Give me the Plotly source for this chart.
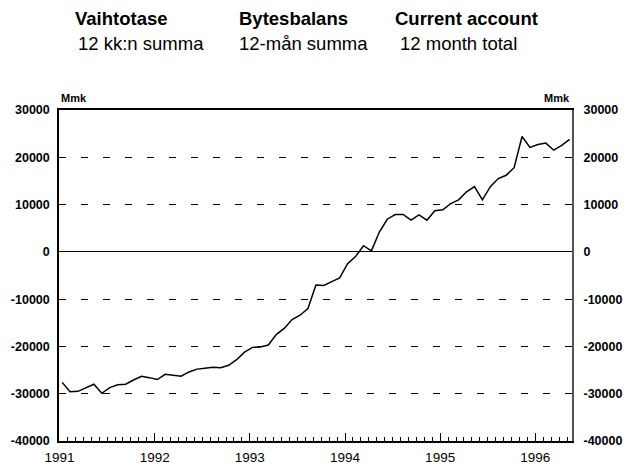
import plotly.graph_objects as go

# 12-month rolling current account, Mmk, monthly Jan 1991 .. May 1996
months = list(range(65))
current_account = [
    -27600, -29600, -29500, -28700, -28000, -29900, -28700, -28100, -28000, -27100,
    -26300, -26600, -27000, -25900, -26100, -26300, -25400, -24800, -24600, -24400,
    -24500, -24000, -22800, -21200, -20200, -20100, -19700, -17500, -16200, -14300,
    -13400, -12000, -7000, -7100, -6300, -5500, -2500, -1000, 1300, 200,
    4200, 6900, 7900, 7900, 6700, 7800, 6700, 8700, 8900, 10200,
    11000, 12700, 13800, 11000, 13800, 15500, 16200, 17800, 24400, 22100,
    22700, 23000, 21500, 22500, 23800,
]
year_labels = ["1991", "1992", "1993", "1994", "1995", "1996"]
y_ticks = [-40000, -30000, -20000, -10000, 0, 10000, 20000, 30000]
y_labels = ["-40000", "-30000", "-20000", "-10000", "0", "10000", "20000", "30000"]

# year ticks sit a third of a month before each January observation
year_ticks = [12 * i - 0.33 for i in range(len(year_labels))]

FONT = "Liberation Sans, Arial, sans-serif"
W, H = 627, 466
L, R, T, B = 59, 55, 110, 25


def px(x):
    return (x - L) / (W - L - R)


def py(y):
    return (H - B - y) / (H - T - B)


fig = go.Figure()
fig.add_trace(go.Scatter(
    x=months, y=current_account, mode="lines",
    line=dict(color="black", width=1.5), showlegend=False,
))
# same series on the right axis so it gets drawn
fig.add_trace(go.Scatter(
    x=months, y=current_account, mode="lines", yaxis="y2",
    line=dict(color="rgba(0,0,0,0)", width=0), showlegend=False, hoverinfo="skip",
))

titles = [
    ("<b>Vaihtotase</b>", 73, 19),
    ("12 kk:n summa", 76, 43),
    ("<b>Bytesbalans</b>", 237, 19),
    ("12-mån summa", 237, 43),
    ("<b>Current account</b>", 393, 19),
    ("12 month total", 398, 43),
]
for text, x, y in titles:
    fig.add_annotation(
        text=text, x=px(x), y=py(y), xref="paper", yref="paper",
        xanchor="left", yanchor="middle", showarrow=False,
        font=dict(family=FONT, size=18.5, color="black"),
    )
fig.add_annotation(text="<b>Mmk</b>", x=px(59), y=py(98), xref="paper", yref="paper",
                   xanchor="left", yanchor="middle", showarrow=False,
                   font=dict(family=FONT, size=11, color="black"))
fig.add_annotation(text="<b>Mmk</b>", x=px(572), y=py(98), xref="paper", yref="paper",
                   xanchor="right", yanchor="middle", showarrow=False,
                   font=dict(family=FONT, size=11, color="black"))

fig.update_layout(
    width=W, height=H,
    margin=dict(l=L, r=R, t=T, b=B, autoexpand=False),
    paper_bgcolor="white", plot_bgcolor="white",
    font=dict(family=FONT, color="black"),
    xaxis=dict(
        range=[-0.4, 64.3], tickvals=year_ticks, ticktext=year_labels,
        ticks="inside", ticklen=8, tickcolor="black", tickwidth=1,
        minor=dict(tick0=-0.33, dtick=1, ticks="inside", ticklen=4,
                   tickcolor="black", showgrid=False),
        showgrid=False, zeroline=False, automargin=False,
        showline=True, linecolor="black", linewidth=1.5, mirror=True,
        ticklabelstandoff=3,
        tickfont=dict(size=13.5, color="black"),
    ),
    yaxis=dict(
        range=[-40000, 30000], tickvals=y_ticks, ticktext=y_labels,
        showgrid=True, gridcolor="black", gridwidth=1, griddash="7px,15px",
        zeroline=True, zerolinecolor="black", zerolinewidth=1,
        showline=True, linecolor="black", linewidth=1.5, automargin=False,
        ticks="", ticklabelstandoff=5,
        tickfont=dict(size=12.5, color="black", weight="bold"),
    ),
    yaxis2=dict(
        range=[-40000, 30000], tickvals=y_ticks, ticktext=y_labels,
        overlaying="y", side="right", showgrid=False, zeroline=False,
        showline=True, linecolor="#555", linewidth=2, automargin=False,
        ticks="", ticklabelstandoff=7,
        tickfont=dict(size=12.5, color="black", weight="bold"),
    ),
)

# drop the browser's default 8px body margin so the figure fills the window
fig.write_html(
    "out.html",
    config={"displayModeBar": False},
    post_script="document.body.style.margin='0px';",
)
